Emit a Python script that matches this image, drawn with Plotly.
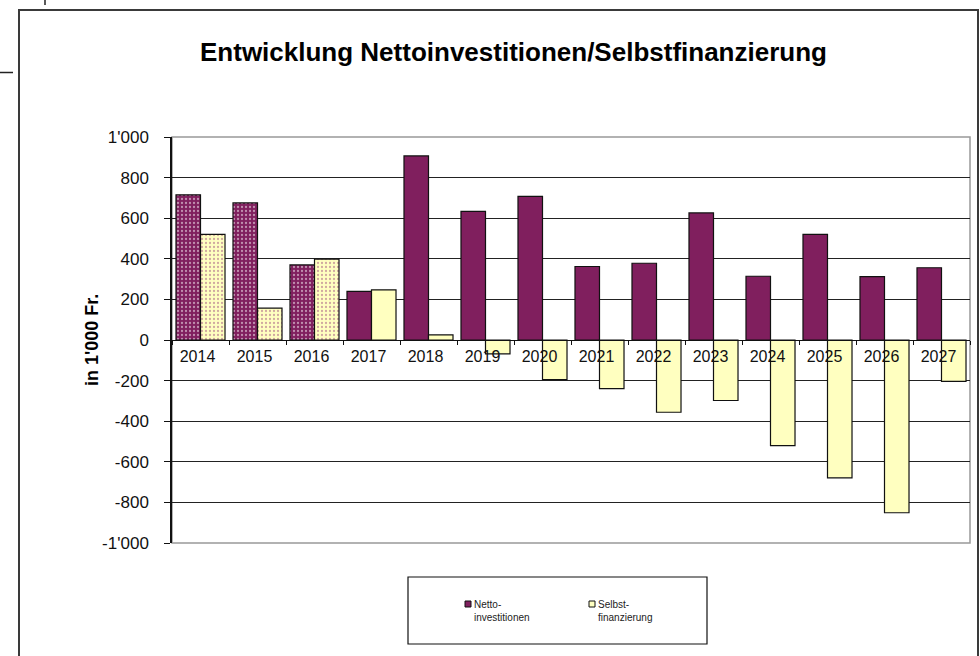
import plotly.graph_objects as go

years = ["2014", "2015", "2016", "2017", "2018", "2019", "2020",
         "2021", "2022", "2023", "2024", "2025", "2026", "2027"]
netto = [715, 675, 370, 240, 907, 634, 708, 362, 378, 626, 314, 520, 312, 356]
selbst = [520, 157, 398, 247, 25, -68, -195, -240, -356, -298, -520, -679, -851, -204]
patterned = [True, True, True] + [False] * 11

yticks = [1000, 800, 600, 400, 200, 0, -200, -400, -600, -800, -1000]
yticktext = ["1'000", "800", "600", "400", "200", "0", "-200", "-400", "-600", "-800", "-1'000"]

title = "Entwicklung Nettoinvestitionen/Selbstfinanzierung"
ytitle = "in 1'000 Fr."
leg1 = "Netto-<br>investitionen"
leg2 = "Selbst-<br>finanzierung"

PURPLE = "#801F5E"
YELLOW = "#FFFFC0"
FONT = "Liberation Sans"

W, H = 980, 656
L, R, T, B = 172, 10, 137, 113
PW, PH = W - L - R, H - T - B


def px(x):
    return (x - L) / PW


def py(y):
    return (H - B - y) / PH


fig = go.Figure()
fig.add_trace(go.Bar(
    x=years, y=netto, name="Netto-investitionen",
    marker=dict(color=PURPLE, line=dict(color="#111", width=1.2),
                pattern=dict(shape=["." if p else "" for p in patterned],
                             fgcolor="white", size=4, solidity=0.25, fillmode="overlay")),
))
fig.add_trace(go.Bar(
    x=years, y=selbst, name="Selbst-finanzierung",
    marker=dict(color=YELLOW, line=dict(color="#111", width=1.2),
                pattern=dict(shape=["." if p else "" for p in patterned],
                             fgcolor="#A05080", size=4, solidity=0.25, fillmode="overlay")),
))

fig.update_layout(
    width=W, height=H,
    margin=dict(l=L, r=R, t=T, b=B),
    paper_bgcolor="white", plot_bgcolor="white",
    barmode="group", bargap=0.14, bargroupgap=0.0,
    showlegend=False,
    font=dict(family=FONT, color="black"),
)
fig.update_yaxes(
    range=[-1000, 1000], tickvals=yticks, ticktext=yticktext,
    tickfont=dict(size=17, family=FONT, color="#111"),
    showgrid=True, gridcolor="#222", gridwidth=1,
    zeroline=True, zerolinecolor="#111", zerolinewidth=1,
    showline=True, linecolor="#111", linewidth=1.5,
    ticks="outside", ticklen=6, tickcolor="#111",
    ticklabelstandoff=12,
)
fig.update_xaxes(
    type="category", anchor="free", position=0.5,
    showline=True, linecolor="#111", linewidth=1,
    tickson="boundaries", ticks="outside", ticklen=4, tickcolor="#111",
    tickfont=dict(size=16, family=FONT, color="#111"),
    ticklabelshift=-3, ticklabelstandoff=2,
    showgrid=False,
)

shapes = []
# plot area border (gray)
shapes.append(dict(type="rect", xref="paper", yref="paper", x0=0, x1=1, y0=0, y1=1,
                   line=dict(color="#999", width=1.5), layer="below"))
# outer chart border
shapes.append(dict(type="rect", xref="paper", yref="paper",
                   x0=px(19), x1=px(978), y0=py(662), y1=py(10),
                   line=dict(color="#3a3a3a", width=2)))
# stray sheet lines
shapes.append(dict(type="line", xref="paper", yref="paper",
                   x0=px(45), x1=px(45), y0=py(-2), y1=py(5),
                   line=dict(color="#222", width=1.5)))
shapes.append(dict(type="line", xref="paper", yref="paper",
                   x0=px(-2), x1=px(13), y0=py(72.5), y1=py(72.5),
                   line=dict(color="#222", width=1.5)))
# legend box
shapes.append(dict(type="rect", xref="paper", yref="paper",
                   x0=px(408), x1=px(707), y0=py(644), y1=py(577),
                   line=dict(color="#111", width=1.2), fillcolor="white"))
# legend keys
shapes.append(dict(type="rect", xref="paper", yref="paper",
                   x0=px(465), x1=px(471), y0=py(607), y1=py(601),
                   line=dict(color="#111", width=1), fillcolor=PURPLE))
shapes.append(dict(type="rect", xref="paper", yref="paper",
                   x0=px(589), x1=px(595), y0=py(607), y1=py(601),
                   line=dict(color="#111", width=1), fillcolor=YELLOW))
fig.update_layout(shapes=shapes)

annotations = [
    dict(text="<b>" + title + "</b>", x=px(513), y=py(52), xref="paper", yref="paper",
         showarrow=False, xanchor="center", yanchor="middle",
         font=dict(size=26, family=FONT, color="black")),
    dict(text="<b>" + ytitle + "</b>", x=px(92), y=py(340), xref="paper", yref="paper",
         showarrow=False, textangle=-90, xanchor="center", yanchor="middle",
         font=dict(size=18, family=FONT, color="black")),
    dict(text=leg1, x=px(472), y=py(611), xref="paper", yref="paper",
         showarrow=False, xanchor="left", yanchor="middle", align="left",
         font=dict(size=10, family=FONT, color="#222")),
    dict(text=leg2, x=px(596), y=py(611), xref="paper", yref="paper",
         showarrow=False, xanchor="left", yanchor="middle", align="left",
         font=dict(size=10, family=FONT, color="#222")),
]
fig.update_layout(annotations=annotations)

fig.write_html("out.html")
